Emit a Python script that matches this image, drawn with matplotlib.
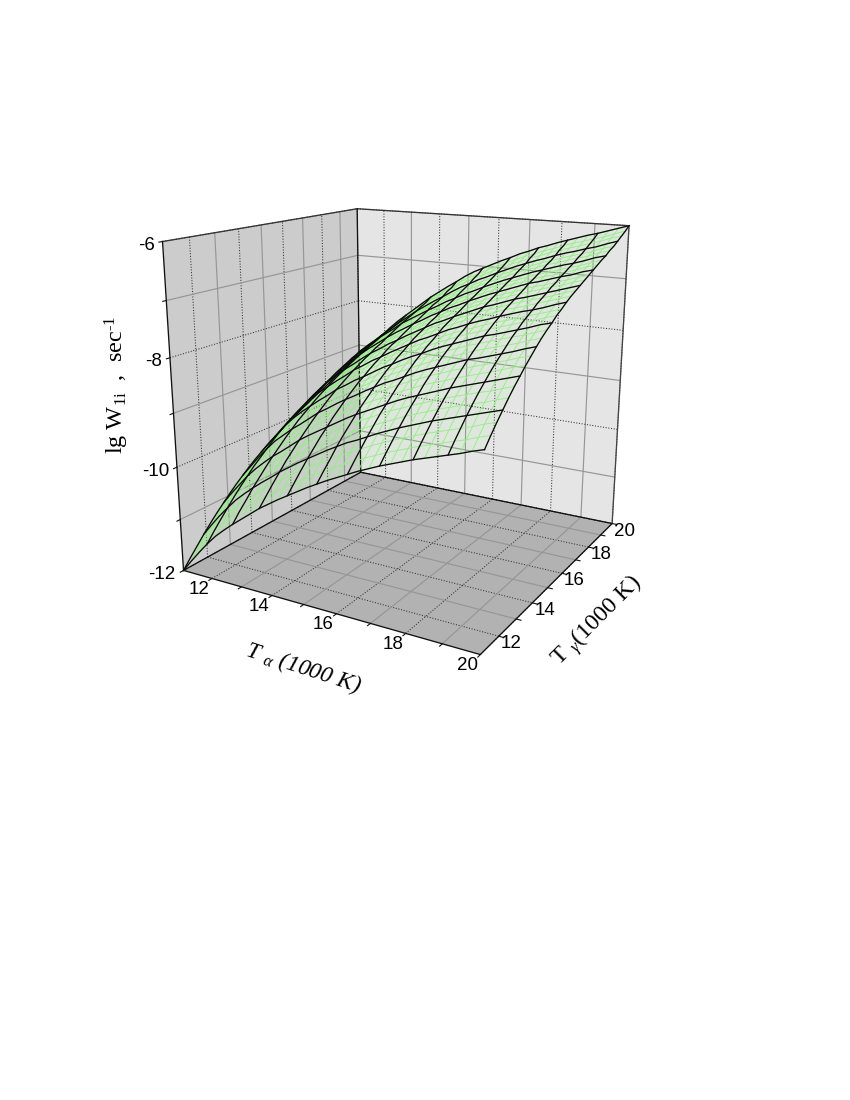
import numpy as np
import matplotlib
matplotlib.use('Agg')
import matplotlib.pyplot as plt
from mpl_toolkits.mplot3d import proj3d
from mpl_toolkits.mplot3d.art3d import Poly3DCollection

plt.rcParams['font.family'] = ['Liberation Sans', 'DejaVu Sans']
plt.rcParams['mathtext.fontset'] = 'custom'
plt.rcParams['mathtext.rm'] = 'Liberation Serif'
plt.rcParams['mathtext.it'] = 'Liberation Serif:italic'

# lg W over the 11..20 grid, step 0.3 (rows: T alpha, columns: T gamma)
t_fine = np.arange(31) * 0.3 + 11
lg_w = np.array([
    [-12.00,-11.83,-11.67,-11.51,-11.36,-11.22,-11.09,-10.96,-10.84,-10.73,-10.62,-10.52,-10.43,-10.34,-10.26,-10.18,-10.10,-10.03,-9.97,-9.90,-9.84,-9.77,-9.71,-9.65,-9.59,-9.52,-9.46,-9.39,-9.31,-9.24,-9.15],
    [-11.77,-11.60,-11.44,-11.28,-11.13,-10.99,-10.86,-10.74,-10.62,-10.51,-10.40,-10.30,-10.21,-10.12,-10.04,-9.96,-9.88,-9.81,-9.75,-9.68,-9.62,-9.55,-9.49,-9.43,-9.37,-9.31,-9.26,-9.21,-9.15,-9.09,-9.01],
    [-11.55,-11.38,-11.22,-11.06,-10.92,-10.78,-10.65,-10.52,-10.40,-10.29,-10.18,-10.08,-10.00,-9.91,-9.83,-9.75,-9.67,-9.60,-9.54,-9.47,-9.41,-9.34,-9.28,-9.22,-9.16,-9.11,-9.08,-9.04,-8.99,-8.94,-8.87],
    [-11.34,-11.17,-11.01,-10.86,-10.71,-10.57,-10.44,-10.31,-10.20,-10.09,-9.98,-9.88,-9.79,-9.70,-9.62,-9.55,-9.47,-9.40,-9.34,-9.27,-9.21,-9.14,-9.08,-9.02,-8.96,-8.93,-8.89,-8.86,-8.82,-8.77,-8.71],
    [-11.15,-10.98,-10.83,-10.67,-10.52,-10.38,-10.26,-10.13,-10.01,-9.90,-9.80,-9.70,-9.61,-9.52,-9.44,-9.36,-9.29,-9.22,-9.16,-9.09,-9.03,-8.96,-8.90,-8.84,-8.79,-8.75,-8.71,-8.68,-8.63,-8.58,-8.52],
    [-10.99,-10.82,-10.67,-10.51,-10.36,-10.23,-10.10,-9.97,-9.86,-9.75,-9.64,-9.54,-9.45,-9.37,-9.29,-9.21,-9.13,-9.06,-9.00,-8.94,-8.88,-8.81,-8.75,-8.69,-8.63,-8.58,-8.56,-8.52,-8.47,-8.42,-8.35],
    [-10.84,-10.67,-10.52,-10.36,-10.22,-10.08,-9.95,-9.83,-9.71,-9.60,-9.49,-9.40,-9.31,-9.22,-9.14,-9.07,-8.99,-8.92,-8.86,-8.79,-8.73,-8.67,-8.61,-8.55,-8.49,-8.44,-8.40,-8.37,-8.32,-8.27,-8.20],
    [-10.70,-10.53,-10.38,-10.22,-10.08,-9.94,-9.82,-9.69,-9.57,-9.47,-9.36,-9.26,-9.17,-9.09,-9.01,-8.93,-8.85,-8.79,-8.73,-8.66,-8.60,-8.53,-8.47,-8.42,-8.36,-8.31,-8.27,-8.22,-8.17,-8.12,-8.05],
    [-10.56,-10.40,-10.24,-10.09,-9.94,-9.80,-9.68,-9.55,-9.44,-9.33,-9.22,-9.13,-9.04,-8.95,-8.88,-8.80,-8.72,-8.65,-8.59,-8.53,-8.47,-8.40,-8.34,-8.29,-8.23,-8.18,-8.13,-8.08,-8.03,-7.98,-7.90],
    [-10.42,-10.26,-10.10,-9.95,-9.80,-9.67,-9.54,-9.42,-9.30,-9.19,-9.09,-8.99,-8.90,-8.82,-8.74,-8.66,-8.59,-8.52,-8.46,-8.39,-8.34,-8.27,-8.21,-8.15,-8.09,-8.04,-7.99,-7.94,-7.88,-7.83,-7.75],
    [-10.30,-10.14,-9.98,-9.83,-9.68,-9.55,-9.42,-9.30,-9.18,-9.08,-8.97,-8.87,-8.79,-8.70,-8.62,-8.55,-8.47,-8.40,-8.35,-8.28,-8.22,-8.15,-8.09,-8.04,-7.98,-7.92,-7.87,-7.82,-7.75,-7.69,-7.62],
    [-10.18,-10.02,-9.86,-9.71,-9.57,-9.43,-9.31,-9.18,-9.07,-8.96,-8.86,-8.76,-8.67,-8.59,-8.51,-8.43,-8.36,-8.29,-8.23,-8.16,-8.11,-8.04,-7.98,-7.92,-7.87,-7.81,-7.76,-7.70,-7.63,-7.57,-7.49],
    [-10.07,-9.91,-9.75,-9.60,-9.46,-9.32,-9.20,-9.07,-8.96,-8.85,-8.75,-8.65,-8.57,-8.48,-8.40,-8.33,-8.25,-8.18,-8.13,-8.06,-8.00,-7.93,-7.88,-7.82,-7.76,-7.69,-7.65,-7.59,-7.51,-7.46,-7.37],
    [-9.96,-9.80,-9.64,-9.49,-9.35,-9.22,-9.09,-8.97,-8.85,-8.75,-8.64,-8.55,-8.46,-8.37,-8.30,-8.22,-8.15,-8.08,-8.02,-7.95,-7.90,-7.83,-7.77,-7.72,-7.66,-7.59,-7.53,-7.47,-7.39,-7.32,-7.24],
    [-9.85,-9.69,-9.54,-9.38,-9.24,-9.11,-8.98,-8.86,-8.74,-8.64,-8.53,-8.44,-8.35,-8.27,-8.19,-8.12,-8.04,-7.97,-7.92,-7.85,-7.79,-7.72,-7.67,-7.61,-7.55,-7.49,-7.43,-7.36,-7.29,-7.22,-7.13],
    [-9.75,-9.59,-9.44,-9.28,-9.14,-9.01,-8.88,-8.76,-8.65,-8.54,-8.44,-8.34,-8.26,-8.17,-8.10,-8.02,-7.94,-7.88,-7.82,-7.75,-7.70,-7.63,-7.57,-7.52,-7.46,-7.39,-7.33,-7.27,-7.19,-7.13,-7.04],
    [-9.65,-9.49,-9.34,-9.18,-9.04,-8.91,-8.79,-8.66,-8.55,-8.44,-8.34,-8.25,-8.16,-8.07,-8.00,-7.92,-7.85,-7.78,-7.72,-7.66,-7.60,-7.53,-7.48,-7.42,-7.36,-7.30,-7.24,-7.17,-7.10,-7.03,-6.95],
    [-9.56,-9.40,-9.25,-9.10,-8.95,-8.82,-8.70,-8.58,-8.46,-8.36,-8.25,-8.16,-8.07,-7.99,-7.91,-7.84,-7.76,-7.69,-7.64,-7.57,-7.51,-7.45,-7.39,-7.33,-7.28,-7.21,-7.15,-7.09,-7.01,-6.95,-6.86],
    [-9.47,-9.31,-9.16,-9.01,-8.87,-8.73,-8.61,-8.49,-8.37,-8.27,-8.17,-8.07,-7.99,-7.90,-7.83,-7.75,-7.67,-7.61,-7.55,-7.49,-7.43,-7.36,-7.31,-7.25,-7.19,-7.13,-7.07,-7.00,-6.93,-6.86,-6.78],
    [-9.38,-9.22,-9.07,-8.92,-8.78,-8.64,-8.52,-8.40,-8.29,-8.18,-8.08,-7.98,-7.90,-7.81,-7.74,-7.66,-7.59,-7.52,-7.47,-7.40,-7.34,-7.28,-7.22,-7.16,-7.11,-7.04,-6.98,-6.92,-6.84,-6.78,-6.69],
    [-9.30,-9.14,-8.99,-8.84,-8.70,-8.57,-8.44,-8.32,-8.21,-8.10,-8.00,-7.91,-7.82,-7.74,-7.66,-7.59,-7.51,-7.45,-7.39,-7.32,-7.27,-7.20,-7.15,-7.09,-7.03,-6.97,-6.91,-6.84,-6.77,-6.70,-6.62],
    [-9.22,-9.06,-8.91,-8.76,-8.62,-8.49,-8.37,-8.24,-8.13,-8.03,-7.92,-7.83,-7.75,-7.66,-7.59,-7.51,-7.44,-7.37,-7.31,-7.25,-7.19,-7.13,-7.07,-7.01,-6.96,-6.89,-6.83,-6.77,-6.69,-6.63,-6.54],
    [-9.15,-8.99,-8.84,-8.69,-8.55,-8.42,-8.30,-8.17,-8.06,-7.96,-7.86,-7.76,-7.68,-7.59,-7.52,-7.44,-7.37,-7.30,-7.25,-7.18,-7.12,-7.06,-7.00,-6.95,-6.89,-6.82,-6.77,-6.70,-6.63,-6.56,-6.48],
    [-9.08,-8.92,-8.77,-8.62,-8.48,-8.35,-8.23,-8.11,-7.99,-7.89,-7.79,-7.69,-7.61,-7.53,-7.45,-7.38,-7.30,-7.24,-7.18,-7.11,-7.06,-6.99,-6.94,-6.88,-6.82,-6.76,-6.70,-6.64,-6.56,-6.50,-6.41],
    [-9.01,-8.85,-8.70,-8.55,-8.41,-8.28,-8.16,-8.04,-7.93,-7.82,-7.72,-7.63,-7.54,-7.46,-7.38,-7.31,-7.23,-7.17,-7.11,-7.05,-6.99,-6.92,-6.87,-6.81,-6.76,-6.69,-6.64,-6.57,-6.49,-6.43,-6.35],
    [-8.95,-8.79,-8.64,-8.49,-8.35,-8.22,-8.10,-7.98,-7.87,-7.77,-7.66,-7.57,-7.49,-7.40,-7.33,-7.25,-7.18,-7.11,-7.06,-6.99,-6.93,-6.87,-6.81,-6.76,-6.70,-6.64,-6.58,-6.51,-6.44,-6.37,-6.29],
    [-8.89,-8.73,-8.58,-8.43,-8.29,-8.16,-8.04,-7.92,-7.81,-7.71,-7.60,-7.51,-7.43,-7.34,-7.27,-7.19,-7.12,-7.05,-7.00,-6.93,-6.88,-6.81,-6.76,-6.70,-6.64,-6.58,-6.52,-6.46,-6.38,-6.32,-6.23],
    [-8.83,-8.67,-8.52,-8.37,-8.23,-8.10,-7.98,-7.86,-7.75,-7.65,-7.55,-7.45,-7.37,-7.28,-7.21,-7.14,-7.06,-7.00,-6.94,-6.87,-6.82,-6.75,-6.70,-6.64,-6.59,-6.52,-6.47,-6.40,-6.33,-6.26,-6.18],
    [-8.77,-8.61,-8.46,-8.31,-8.18,-8.05,-7.92,-7.80,-7.69,-7.59,-7.49,-7.40,-7.31,-7.23,-7.15,-7.08,-7.00,-6.94,-6.88,-6.82,-6.76,-6.70,-6.64,-6.59,-6.53,-6.47,-6.41,-6.35,-6.27,-6.21,-6.12],
    [-8.70,-8.54,-8.39,-8.25,-8.11,-7.98,-7.86,-7.73,-7.62,-7.52,-7.42,-7.33,-7.24,-7.16,-7.09,-7.01,-6.94,-6.87,-6.82,-6.75,-6.70,-6.63,-6.57,-6.52,-6.46,-6.40,-6.34,-6.28,-6.20,-6.14,-6.06],
    [-8.64,-8.48,-8.33,-8.19,-8.05,-7.92,-7.80,-7.68,-7.57,-7.46,-7.36,-7.27,-7.19,-7.10,-7.03,-6.95,-6.88,-6.82,-6.76,-6.70,-6.64,-6.58,-6.52,-6.46,-6.41,-6.34,-6.29,-6.22,-6.15,-6.08,-6.00],
])

t_major = [12, 14, 16, 18, 20]
t_minor = [13, 15, 17, 19]
z_major = [-6, -8, -10, -12]
z_minor = [-7, -9, -11]

X, Y = np.meshgrid(t_fine, t_fine, indexing='ij')

fig = plt.figure(figsize=(8.5, 11), dpi=100)
L = 0.185 * 2958.5
ax = fig.add_axes([127.85/850, (1100-677.1)/1100, L/850, L/1100], projection='3d', computed_zorder=False)
ax.set_xlim(11, 20); ax.set_ylim(11, 20); ax.set_zlim(-12, -6)
ax.view_init(15.9627, -59.9995)
ax.set_proj_type('persp', focal_length=0.35823)
ax.set_box_aspect((1.00297, 1, 0.99706))
ax.set_axis_off()

# walls
ax.add_collection3d(Poly3DCollection([[(11, 11, -12), (11, 20, -12), (11, 20, -6), (11, 11, -6)]], facecolor='#cccccc', edgecolor='none', zorder=1))
ax.add_collection3d(Poly3DCollection([[(11, 20, -12), (20, 20, -12), (20, 20, -6), (11, 20, -6)]], facecolor='#e5e5e5', edgecolor='none', zorder=1))
ax.add_collection3d(Poly3DCollection([[(11, 11, -12), (20, 11, -12), (20, 20, -12), (11, 20, -12)]], facecolor='#b2b2b2', edgecolor='none', zorder=1))

dot = dict(color='#333333', lw=0.75, ls=(0, (1, 1.6)), zorder=2)
sol = dict(color='#969696', lw=0.85, zorder=2)
for t, st in [(t_major, dot), (t_minor, sol)]:
    for v in t:
        ax.plot([v, v], [11, 20], [-12, -12], **st)
        ax.plot([11, 20], [v, v], [-12, -12], **st)
        ax.plot([11, 11], [v, v], [-12, -6], **st)
        ax.plot([v, v], [20, 20], [-12, -6], **st)
for t, st in [(z_major, dot), (z_minor, sol)]:
    for v in t:
        ax.plot([11, 11], [11, 20], [v, v], **st)
        ax.plot([11, 20], [20, 20], [v, v], **st)

# box
edge = dict(color='#111111', lw=0.95, zorder=3)
ax.plot([11, 11, 20, 20, 11], [11, 20, 20, 11, 11], [-12, -12, -12, -12, -12], **edge)
ax.plot([11, 11, 20, 20], [11, 20, 20, 20], [-6, -6, -6, -6], color='#333333', lw=0.95, zorder=3)
ax.plot([11, 11], [11, 11], [-12, -6], **edge)
ax.plot([11, 11], [20, 20], [-12, -6], **edge)
ax.plot([20, 20], [20, 20], [-12, -6], color='#444444', lw=0.95, zorder=3)

# ticks
tick = dict(color='#111111', lw=0.8, zorder=3)
for v in t_major + t_minor:
    ax.plot([v, v], [11, 10.87], [-12, -12], **tick)
    ax.plot([20, 20.13], [v, v], [-12, -12], **tick)
for v in z_major + z_minor:
    ax.plot([11, 11], [11, 10.87], [v, v], **tick)

# surface
ax.plot_surface(X, Y, lg_w, color=(0.6, 1.0, 0.5), alpha=0.07, shade=False, linewidth=0, antialiased=False, zorder=4)
for i in range(31):
    ax.plot(X[i, :], Y[i, :], lg_w[i, :], color='#93ef85', lw=0.6, zorder=5)
    ax.plot(X[:, i], Y[:, i], lg_w[:, i], color='#93ef85', lw=0.6, zorder=5)
for i in range(0, 31, 3):
    ax.plot(X[i, :], Y[i, :], lg_w[i, :], color='#0a0a0a', lw=0.95, zorder=6)
    ax.plot(X[:, i], Y[:, i], lg_w[:, i], color='#0a0a0a', lw=0.95, zorder=6)

def label(x, y, z, s, dx, dy, ha='center'):
    xp, yp, _ = proj3d.proj_transform(x, y, z, ax.get_proj())
    ax.annotate(s, (xp, yp), xytext=(dx*0.72, -dy*0.72), textcoords='offset points',
                ha=ha, va='center', fontsize=13.5, color='black', annotation_clip=False)

for v in t_major:
    label(v, 11, -12, str(v), -13, 11)
    label(20, v, -12, str(v), 12.5, 7.5)
for v in z_major:
    label(11, 11, v, str(v), -8, 4, ha='right')

fig.text(117/850, 1-385/1100, 'lg W$_{\\mathrm{1i}}$  ,  sec$^{\\text{-}1}$', family='Liberation Serif', fontsize=17.5,
         rotation=90, ha='center', va='center')
fig.text(303/850, 1-668/1100, 'T $_{\\alpha}$ (1000 K)', family='Liberation Serif', style='italic', fontsize=17,
         rotation=-18, ha='center', va='center')
fig.text(597/850, 1-621/1100, 'T $_{\\gamma}$(1000 K)', family='Liberation Serif', fontsize=17.5,
         rotation=45, ha='center', va='center')

fig.savefig('out.png', dpi=100)
